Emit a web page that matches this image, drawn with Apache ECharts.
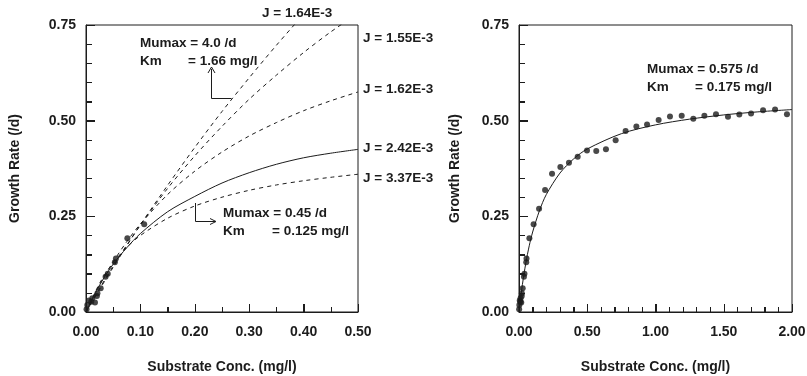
<!DOCTYPE html>
<html><head><meta charset="utf-8">
<script src="https://cdn.jsdelivr.net/npm/echarts@6/dist/echarts.min.js"></script>
<style>html,body{margin:0;padding:0;background:#fff}#c{width:807px;height:376px}</style>
</head><body><div id="c"></div>
<script>
// ---- data ----
const curveS = [0, 0.025, 0.05, 0.075, 0.1, 0.15, 0.2, 0.25, 0.3, 0.35, 0.4, 0.45, 0.5];
const curveJ164 = [0, 0.059, 0.117, 0.173, 0.228, 0.331, 0.430, 0.524, 0.612, 0.697, 0.778, null, null];
const curveJ155 = [0, 0.062, 0.120, 0.175, 0.227, 0.323, 0.408, 0.485, 0.556, 0.619, 0.678, 0.732, 0.781];
const curveJ162 = [0, 0.071, 0.131, 0.184, 0.230, 0.307, 0.368, 0.418, 0.460, 0.495, 0.526, 0.552, 0.575];
const curveJ242 = [0, 0.070, 0.125, 0.168, 0.205, 0.262, 0.302, 0.337, 0.364, 0.386, 0.403, 0.415, 0.425];
const curveJ337 = [0, 0.075, 0.129, 0.169, 0.200, 0.245, 0.277, 0.300, 0.318, 0.332, 0.343, 0.352, 0.360];

const fitS = [0, 0.0125, 0.025, 0.05, 0.075, 0.1, 0.15, 0.2, 0.3, 0.4, 0.5, 0.75, 1.0, 1.25, 1.5, 1.75, 2.0];
const fitMu = [0, 0.038, 0.072, 0.128, 0.173, 0.209, 0.265, 0.307, 0.363, 0.400, 0.426, 0.466, 0.489, 0.504, 0.515, 0.523, 0.529];

const obsS = [0.001, 0.0024, 0.0055, 0.0097, 0.0116, 0.0165, 0.020, 0.021, 0.027, 0.036, 0.040, 0.053, 0.055, 0.076, 0.107,
  0.147, 0.191, 0.242, 0.303, 0.366, 0.430, 0.498, 0.566, 0.637, 0.708, 0.781, 0.860, 0.938, 1.023, 1.106, 1.192,
  1.277, 1.358, 1.443, 1.531, 1.614, 1.700, 1.788, 1.876, 1.963];
const obsMu = [0.007, 0.018, 0.030, 0.027, 0.036, 0.025, 0.042, 0.049, 0.062, 0.092, 0.100, 0.130, 0.140, 0.193, 0.229,
  0.270, 0.319, 0.361, 0.379, 0.390, 0.406, 0.422, 0.421, 0.425, 0.449, 0.473, 0.485, 0.490, 0.502, 0.511, 0.513,
  0.505, 0.513, 0.517, 0.510, 0.516, 0.519, 0.527, 0.529, 0.517];

// [min, max, label interval, minor splits]
const leftXTicks = [0, 0.5, 0.1, 2];
const rightXTicks = [0, 2, 0.5, 5];
const yTicks = [0, 0.75, 0.25, 5];

// ---- build ----
const pairs = (xs, ys) => xs.map((x, i) => [x, ys[i]]).filter(p => p[1] !== null);
const ink = '#1c1c1c';
const FONT = 'Liberation Sans';

function xAx(gi, t, nameGap) {
  return {type: 'value', gridIndex: gi, min: t[0], max: t[1], interval: t[2],
    name: 'Substrate Conc. (mg/l)', nameLocation: 'middle', nameGap: nameGap,
    nameTextStyle: {fontFamily: FONT, fontWeight: 'bold', fontSize: 14, color: ink},
    axisLine: {show: true, lineStyle: {color: ink, width: 1}},
    axisTick: {show: true, inside: true, length: 8, lineStyle: {color: ink, width: 1}},
    minorTick: {show: true, splitNumber: t[3], length: 5, lineStyle: {color: ink, width: 1}},
    splitLine: {show: false},
    axisLabel: {margin: 13, formatter: v => v.toFixed(2), fontFamily: FONT, fontWeight: 'bold', fontSize: 14, color: ink}};
}
function yAx(gi, nameGap) {
  return {type: 'value', gridIndex: gi, min: yTicks[0], max: yTicks[1], interval: yTicks[2],
    name: 'Growth Rate (/d)', nameLocation: 'middle', nameGap: nameGap,
    nameTextStyle: {fontFamily: FONT, fontWeight: 'bold', fontSize: 14, color: ink},
    axisLine: {show: true, lineStyle: {color: ink, width: 1}},
    axisTick: {show: true, inside: true, length: 9, lineStyle: {color: ink, width: 1}},
    minorTick: {show: true, splitNumber: yTicks[3], length: 6, lineStyle: {color: ink, width: 1}},
    splitLine: {show: false},
    axisLabel: {margin: 10, formatter: v => v.toFixed(2), fontFamily: FONT, fontWeight: 'bold', fontSize: 14, color: ink}};
}
function line(xi, data, dashed) {
  return {type: 'line', xAxisIndex: xi, yAxisIndex: xi, data: data, smooth: 0.3, symbol: 'none',
    clip: true, lineStyle: {color: ink, width: 1, type: dashed ? [4, 4] : 'solid'}};
}
function dots(xi, data) {
  return {type: 'scatter', xAxisIndex: xi, yAxisIndex: xi, data: data, symbolSize: 6,
    itemStyle: {color: ink}};
}
// inward tick marks drawn through the axes' own scales (custom series)
function tickSeries(xi, xt) {
  const data = [];
  const nx = Math.round((xt[1] - xt[0]) / xt[2]) * xt[3];
  for (let k = 0; k <= nx; k++) data.push([xt[0] + (xt[1] - xt[0]) * k / nx, k % xt[3] === 0 ? 1 : 0, 0]);
  const ny = Math.round((yTicks[1] - yTicks[0]) / yTicks[2]) * yTicks[3];
  for (let k = 0; k <= ny; k++) data.push([yTicks[0] + (yTicks[1] - yTicks[0]) * k / ny, k % yTicks[3] === 0 ? 1 : 0, 1]);
  return {type: 'custom', xAxisIndex: xi, yAxisIndex: xi, data: data, silent: true, clip: false, z: 5,
    encode: {x: -1, y: -1},
    renderItem: function (params, api) {
      const v = api.value(0), major = api.value(1), orient = api.value(2);
      if (orient === 0) {
        const p = api.coord([v, yTicks[0]]);
        const x = Math.round(p[0]) + 0.5, len = major ? 8 : 5;
        return {type: 'line', shape: {x1: x, y1: p[1], x2: x, y2: p[1] - len}, style: {stroke: ink, lineWidth: 1}};
      }
      const p = api.coord([xt[0], v]);
      const y = Math.round(p[1]) + 0.5, len = major ? 9 : 6;
      return {type: 'line', shape: {x1: p[0], y1: y, x2: p[0] + len, y2: y}, style: {stroke: ink, lineWidth: 1}};
    }};
}

const obs = pairs(obsS, obsMu);
const chart = echarts.init(document.getElementById('c'));
function txt(x, y, s) {
  return {type: 'text', x: x, y: y, style: {text: s, fill: ink, font: 'bold 13.5px "Liberation Sans"', textVerticalAlign: 'middle'}};
}
function pl(points) {
  return {type: 'polyline', shape: {points: points}, style: {stroke: ink, lineWidth: 1, fill: null}};
}
chart.setOption({
  animation: false,
  grid: [
    {left: 86, top: 25, width: 272, height: 287, show: true, borderColor: ink, borderWidth: 1, backgroundColor: 'transparent', containLabel: false, outerBoundsMode: 'none'},
    {left: 519, top: 25, width: 273, height: 287, show: true, borderColor: ink, borderWidth: 1, backgroundColor: 'transparent', containLabel: false, outerBoundsMode: 'none'}
  ],
  xAxis: [xAx(0, leftXTicks, 48), xAx(1, rightXTicks, 48)],
  yAxis: [yAx(0, 64), yAx(1, 57)],
  series: [
    line(0, pairs(curveS, curveJ164), true),
    line(0, pairs(curveS, curveJ155), true),
    line(0, pairs(curveS, curveJ162), true),
    line(0, pairs(curveS, curveJ242), false),
    line(0, pairs(curveS, curveJ337), true),
    dots(0, obs.filter(p => p[0] <= 0.11)),
    line(1, pairs(fitS, fitMu), false),
    dots(1, obs),
    tickSeries(0, leftXTicks),
    tickSeries(1, rightXTicks)
  ],
  graphic: [
    txt(262, 13, 'J = 1.64E-3'),
    txt(363, 38, 'J = 1.55E-3'),
    txt(363, 89, 'J = 1.62E-3'),
    txt(363, 148, 'J = 2.42E-3'),
    txt(363, 178, 'J = 3.37E-3'),
    txt(140, 43, 'Mumax = 4.0 /d'),
    txt(140, 61, 'Km'),
    txt(188, 61, '= 1.66 mg/l'),
    pl([[211.5, 69], [211.5, 98.5], [231.5, 98.5]]),
    pl([[208, 73], [211.5, 67], [215, 73]]),
    txt(223, 213, 'Mumax = 0.45 /d'),
    txt(223, 231, 'Km'),
    txt(272, 231, '= 0.125 mg/l'),
    pl([[195.5, 203], [195.5, 221.5], [215, 221.5]]),
    pl([[210, 218.5], [216, 221.5], [210, 224.5]]),
    txt(647, 69, 'Mumax = 0.575 /d'),
    txt(647, 87, 'Km'),
    txt(695, 87, '= 0.175 mg/l')
  ]
});
</script></body></html>
